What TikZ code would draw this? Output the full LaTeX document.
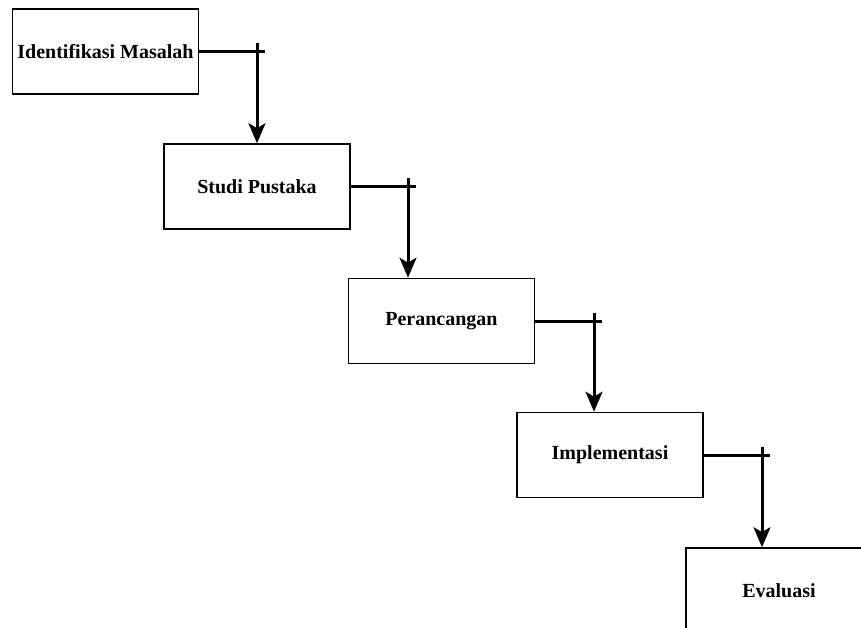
\documentclass[tikz,border=0pt]{standalone}
\usepackage{fontspec}
\setmainfont{Liberation Serif}
\usetikzlibrary{arrows.meta}

\tikzset{
  tahap/.style = {draw, line width = 1.6pt, minimum width = 186pt, minimum height = 85pt,
    inner sep = 0pt, font = \fontsize{20}{24}\selectfont\bfseries},
  alur/.style = {line width = 3pt},
  panah/.style = {alur, -{Stealth[length = 20pt, width = 17pt, inset = 5pt]}},
}

\begin{document}
\begin{tikzpicture}[x = 1pt, y = -1pt]
\useasboundingbox (0, 0) rectangle (861, 628);
\clip (0, 0) rectangle (861, 628);
%\draw[very thin, color = gray](0, 0) grid[step = 50] (861, 628);
\node [tahap] (identifikasi) at (105.5, 51.5) {Identifikasi Masalah};
\node [tahap] (studi) at (257, 186.5) {Studi Pustaka};
\node [tahap] (rancang) at (441.5, 321) {Perancangan};
\node [tahap] (implementasi) at (610, 455) {Implementasi};
\node [tahap] (evaluasi) at (779, 590.5) {Evaluasi};
% titik belok
\coordinate (belok1) at (257, 51.5);
\coordinate (belok2) at (408, 186.5);
\coordinate (belok3) at (594, 321);
\coordinate (belok4) at (762, 455);
% sambungan antar tahap
\draw [alur] (identifikasi.east) -- ([xshift = 8pt] belok1);
\draw [panah] ([yshift = 8pt] belok1) -- (belok1 |- studi.north);
\draw [alur] (studi.east) -- ([xshift = 8pt] belok2);
\draw [panah] ([yshift = 8pt] belok2) -- (belok2 |- rancang.north);
\draw [alur] (rancang.east) -- ([xshift = 8pt] belok3);
\draw [panah] ([yshift = 8pt] belok3) -- (belok3 |- implementasi.north);
\draw [alur] (implementasi.east) -- ([xshift = 8pt] belok4);
\draw [panah] ([yshift = 8pt] belok4) -- (belok4 |- evaluasi.north);
\end{tikzpicture}
\end{document}
